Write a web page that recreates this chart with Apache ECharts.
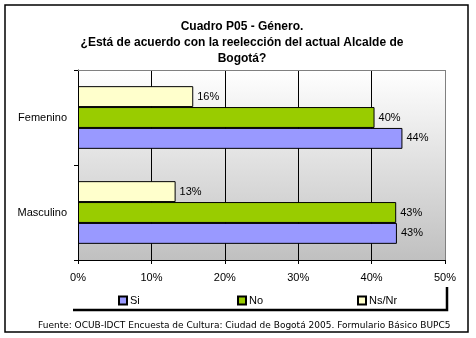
<!DOCTYPE html>
<html><head><meta charset="utf-8">
<script src="https://cdn.jsdelivr.net/npm/echarts@6/dist/echarts.min.js"></script>
<style>html,body{margin:0;padding:0;background:#fff}#c{width:476px;height:338px}</style>
</head><body><div id="c"></div>
<script>
const categories = ['Masculino', 'Femenino'];
const seriesNames = ['Si', 'No', 'Ns/Nr'];
const siValues = [43.45, 44.2];
const noValues = [43.35, 40.4];
const nsnrValues = [13.3, 15.7];
const xTicks = [0, 10, 20, 30, 40, 50];
const titleLines = ['Cuadro P05 - Género.', '¿Está de acuerdo con la reelección del actual Alcalde de', 'Bogotá?'];
const footerText = 'Fuente: OCUB-IDCT Encuesta de Cultura: Ciudad de Bogotá 2005. Formulario Básico BUPC5';

const colors = ['#9999ff', '#99cc00', '#ffffcc'];
const font = 'Liberation Sans, Arial, sans-serif';
const chart = echarts.init(document.getElementById('c'), null, {renderer: 'canvas'});

function mk(name, data, color) {
  return {
    name: name, type: 'bar', data: data, z: 4,
    barGap: '0%', barCategoryGap: '34%',
    itemStyle: {color: color, borderColor: '#000', borderWidth: 1},
    label: {show: true, position: 'right', distance: 4, color: '#000', fontFamily: font, fontSize: 11,
      formatter: p => Math.round(p.value) + '%'},
    emphasis: {disabled: true}
  };
}

const G = {left: 78, right: 31, top: 70, bottom: 78};
const legendPos = [113, 232, 352];
const xMin = xTicks[0], xMax = xTicks[xTicks.length - 1];

const bgSeries = {
  type: 'line', data: [], z: 0, silent: true, symbol: 'none',
  markArea: {
    silent: true, z: 0, label: {show: false}, emphasis: {disabled: true},
    itemStyle: {color: new echarts.graphic.LinearGradient(0, 0, 0, 1, [
      {offset: 0, color: '#ffffff'}, {offset: 1, color: '#c0c0c0'}])},
    data: [[{xAxis: xMin}, {xAxis: xMax}]]
  }
};
const gridSeries = {
  type: 'line', data: [], z: 2, silent: true, symbol: 'none',
  markLine: {
    silent: true, z: 2, symbol: 'none', animation: false, label: {show: false},
    emphasis: {disabled: true},
    data: xTicks.slice(1).map((v, i, a) => ({
      xAxis: v,
      lineStyle: {color: i === a.length - 1 ? '#808080' : '#000', width: 1, type: 'solid'}
    }))
  }
};
chart.setOption({
  animation: false,
  textStyle: {fontFamily: font},
  title: {
    text: titleLines.join('\n'), left: 237, top: 14, textAlign: 'center',
    textStyle: {fontSize: 12, fontWeight: 'bold', color: '#000', lineHeight: 16, fontFamily: font}
  },
  grid: {left: G.left, right: G.right, top: G.top, bottom: G.bottom, show: false},
  legend: seriesNames.map((n, i) => ({
    data: [n], left: legendPos[i], top: 290, itemWidth: 8, itemHeight: 8, itemGap: 0,
    icon: 'rect', textStyle: {fontSize: 11, color: '#000', fontFamily: font, padding: [0, 0, 0, -2]},
    selectedMode: false
  })),
  xAxis: {
    type: 'value', min: xMin, max: xMax, interval: 10, z: 3,
    axisLine: {show: true, lineStyle: {color: '#000'}},
    axisTick: {show: true, length: 4, lineStyle: {color: '#000'}},
    axisLabel: {formatter: v => v + '%', color: '#000', fontSize: 11, margin: 12, fontFamily: font},
    splitLine: {show: false}
  },
  yAxis: {
    type: 'category', data: categories, z: 5,
    axisLine: {show: true, lineStyle: {color: '#000'}},
    axisTick: {show: true, length: 4, lineStyle: {color: '#000'}},
    axisLabel: {color: '#000', fontSize: 11, margin: 11, fontFamily: font}
  },
  series: [bgSeries, gridSeries, mk(seriesNames[2], nsnrValues, colors[2]), mk(seriesNames[1], noValues, colors[1]), mk(seriesNames[0], siValues, colors[0])],
  graphic: [
    {type: 'polyline', z: 100, silent: true,
      shape: {points: [[G.left, G.top + 0.5], [476 - G.right + 0.5, G.top + 0.5], [476 - G.right + 0.5, 338 - G.bottom]]},
      style: {fill: null, stroke: '#808080', lineWidth: 1}},
    {type: 'rect', shape: {x: 5, y: 5, width: 463, height: 327}, style: {fill: null, stroke: '#000', lineWidth: 1.5}, z: 100},
    {type: 'polyline', shape: {points: [[73, 310], [447, 310], [447, 287]]}, style: {fill: null, stroke: '#000', lineWidth: 2.5}, z: 100},
    {type: 'text', left: 38, top: 321, style: {text: footerText, fontSize: 9, fontFamily: 'DejaVu Sans, sans-serif', fill: '#000'}, z: 100}
  ]
});
</script></body></html>
